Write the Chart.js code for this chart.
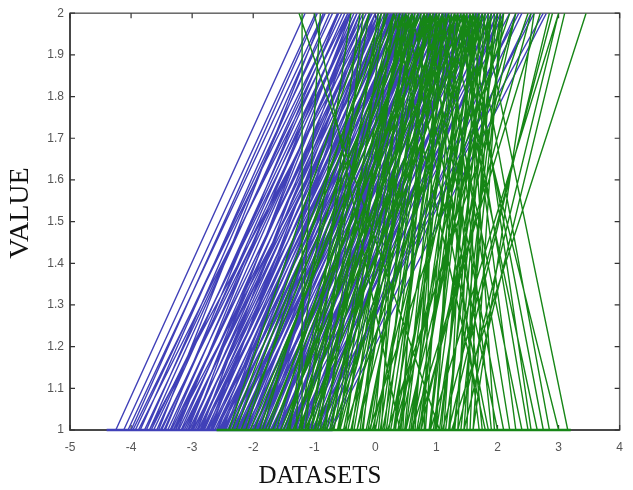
<!DOCTYPE html>
<html>
<head>
<meta charset="utf-8">
<script src="https://cdn.jsdelivr.net/npm/chart.js@4"></script>
<style>
html,body{margin:0;padding:0;background:#fff;}
#wrap{width:633px;height:490px;position:relative;}
</style>
</head>
<body>
<div id="wrap"><canvas id="c" width="633" height="490"></canvas></div>
<script>
// Values at the lower axis level (VALUE = 1) and upper level (VALUE = 2)
const blueBottom = [-4.25,-4.12,-4.0,-3.93,-3.85,-3.78,-3.7,-3.63,-3.58,-3.5,-3.46,-3.4,-3.36,-3.31,-3.27,-3.22,-3.18,-3.13,-3.1,-3.05,-3.02,-2.98,-2.95,-2.9,-2.87,-2.84,-2.8,-2.77,-2.73,-2.7,-2.66,-2.63,-2.6,-2.56,-2.52,-2.49,-2.45,-2.42,-2.38,-2.34,-2.3,-2.27,-2.23,-2.2,-2.16,-2.12,-2.08,-2.05,-2.0,-1.96,-1.92,-1.88,-1.84,-1.8,-1.75,-1.7,-1.65,-1.6,-1.55,-1.5,-1.44,-1.38,-1.32,-1.25,-1.18,-1.1,-1.02,-0.95,-0.85,-0.75,-3.0,-2.7,-2.5,-2.2,-1.9,-1.6,-1.3,-3.55,-2.85,-1.4,-1.05,-0.9,
  -4.05,-3.97,-3.88,-3.75,-3.67,-3.52,-3.44,-3.34,-3.24,-3.16,-3.07,-2.99,-2.92,-2.82,-2.75,-2.68,-2.58,-2.54,-2.47,-2.4,-2.32,-2.25,-2.18,-2.14,-2.1,-2.02,-1.98,-1.94,-1.86,-1.82,-1.77,-1.72,-1.67,-1.62,-1.57,-1.52,-1.47,-1.42,-1.35,-1.28,-1.2,-1.15,-1.08,-0.98,-0.92,-0.8,-0.72,-2.9,-2.6,-2.35,-2.0,-1.7,-3.3,-3.7,-1.45,-1.25,-1.0,-2.45,-2.15,-1.85];
const blueTop    = [-1.15,-0.98,-0.95,-0.7,-0.82,-0.55,-0.62,-0.4,-0.5,-0.3,-0.42,-0.2,-0.35,-0.05,-0.25,0.05,-0.15,0.1,-0.08,0.2,0.0,0.28,0.1,0.35,0.15,0.42,0.22,0.5,0.3,0.55,0.38,0.62,0.4,0.7,0.48,0.75,0.55,0.8,0.6,0.88,0.65,0.95,0.72,1.0,0.8,1.05,0.85,1.12,0.9,1.2,0.98,1.25,1.05,1.3,1.1,1.4,1.18,1.45,1.25,1.55,1.35,1.62,1.45,1.75,1.55,1.9,1.68,2.05,2.3,2.55,-0.4,-0.1,0.05,0.3,0.55,0.8,1.1,-0.85,-0.25,2.2,2.75,1.5,
  -0.85,-0.6,-0.45,-0.75,-0.3,-0.15,-0.6,0.0,-0.45,0.25,-0.3,0.45,-0.1,0.6,0.05,0.72,0.18,0.9,0.32,1.05,0.45,1.15,0.55,1.3,0.62,1.35,0.7,1.45,0.85,1.55,0.95,1.65,1.0,1.75,1.15,1.85,1.2,1.95,1.3,2.0,1.4,2.1,1.5,1.8,2.4,2.0,2.8,0.55,0.85,1.1,1.4,1.7,0.3,-0.05,2.1,2.35,2.6,0.0,0.25,0.45];
const greenBottom = [-2.35,-2.2,-2.05,-1.9,-1.8,-1.68,-1.55,-1.45,-1.35,-1.25,-1.15,-1.05,-0.95,
  -2.4,-2.28,-2.12,-1.98,-1.85,-1.75,-1.62,-1.5,-1.42,-1.32,-1.22,-1.12,-1.0,-0.88,-0.8,-0.7,-0.58,-0.5,-0.4,-0.3,
  -1.3,-1.2,-1.1,-0.95,-0.85,-0.75,-0.68,-0.6,-0.52,-0.45,-0.38,-0.3,-0.22,-0.15,-0.08,0.0,0.05,0.12,0.18,0.25,0.3,0.37,0.42,0.5,0.55,0.62,0.68,0.75,0.8,0.88,0.95,1.0,1.08,1.15,1.22,1.3,1.4,1.5,1.6,-0.9,-0.6,-0.25,0.1,0.45,
  -1.4,-1.25,-1.15,-1.05,-0.98,-0.82,-0.72,-0.62,-0.48,-0.35,-0.2,-0.12,-0.02,0.08,0.15,0.22,0.33,0.4,0.48,0.58,0.65,0.72,0.82,0.9,0.98,1.05,1.12,1.2,1.28,1.35,1.45,1.55,0.3,0.6,-0.05,
  -0.1,0.2,0.4,0.6,0.75,0.9,1.0,1.1,1.25,1.45,1.6,0.3,0.7,1.2,0.5,1.35,
  1.7,1.8,1.9,2.0,2.3,2.4,2.55,2.65,2.85,3.0,3.15,1.95,1.75,2.1,2.5,2.75,1.85,2.2,
  1.05,-1.2,0.4];
const greenTop = [0.2,0.5,0.75,0.4,1.0,0.9,1.3,0.6,1.45,1.1,1.6,0.85,1.35,
  -0.1,0.3,0.1,0.6,0.2,0.7,0.45,0.95,0.3,0.8,0.55,1.2,0.65,1.5,0.95,1.6,1.2,1.7,1.05,1.5,
  -0.9,0.1,0.3,0.5,0.45,0.7,0.6,0.9,0.8,1.0,0.55,1.1,0.85,1.2,0.95,1.3,0.75,1.4,1.05,1.5,1.15,1.6,0.9,1.35,1.7,1.25,1.8,1.5,1.0,1.65,1.85,1.35,1.75,2.0,1.55,1.9,2.1,1.7,2.05,-0.2,0.3,0.65,0.45,0.8,
  -0.4,-0.1,-0.25,0.05,0.35,0.15,0.45,0.65,0.4,0.8,0.5,1.05,0.6,1.1,0.85,1.25,1.0,1.45,1.15,1.55,1.1,1.65,1.3,1.7,1.45,1.9,1.6,1.8,2.1,1.65,1.95,1.85,1.75,2.0,1.65,
  2.2,2.5,1.9,2.7,2.3,3.0,2.05,2.9,3.45,3.1,2.6,2.3,2.55,2.85,2.1,3.0,
  0.9,0.3,1.2,0.6,1.4,1.0,1.55,1.2,1.6,1.3,1.75,1.5,1.1,0.8,1.35,1.45,0.5,1.1,
  -1.25,-1.2,-1.0];
// Horizontal runs along VALUE = 1 (from, to)
const blueBase = [-4.4, -0.7];
const greenBase = [-2.6, 3.2];
const xTicks = [-5,-4,-3,-2,-1,0,1,2,3,4];
const yTicks = [1,1.1,1.2,1.3,1.4,1.5,1.6,1.7,1.8,1.9,2];

const BLUE = 'rgb(64,64,184)';
const GREEN = 'rgb(22,134,22)';

function segs(b, t) {
  const out = [];
  for (let i = 0; i < b.length; i++) {
    out.push({x: b[i], y: 1}, {x: t[i], y: 2}, {x: t[i], y: null});
  }
  return out;
}

const frame = {
  id: 'frame',
  beforeDatasetsDraw(chart) {
    const {ctx, chartArea: a, scales: {x, y}} = chart;
    ctx.save();
    ctx.lineWidth = 1.5;
    ctx.strokeStyle = '#666';
    ctx.strokeRect(a.left, a.top, a.right - a.left, a.bottom - a.top);
    ctx.strokeStyle = '#333';
    ctx.beginPath();
    ctx.moveTo(a.left, a.top); ctx.lineTo(a.left, a.bottom); ctx.lineTo(a.right, a.bottom);
    ctx.stroke();
    ctx.lineWidth = 1.2;
    ctx.beginPath();
    xTicks.forEach(v => {
      const p = x.getPixelForValue(v);
      ctx.moveTo(p, a.bottom); ctx.lineTo(p, a.bottom - 5);
      ctx.moveTo(p, a.top); ctx.lineTo(p, a.top + 5);
    });
    yTicks.forEach(v => {
      const p = y.getPixelForValue(v);
      ctx.moveTo(a.left, p); ctx.lineTo(a.left + 5, p);
      ctx.moveTo(a.right, p); ctx.lineTo(a.right - 5, p);
    });
    ctx.stroke();
    ctx.restore();
  },
  afterDraw(chart) {
    const ctx = chart.ctx;
    ctx.save();
    ctx.fillStyle = '#111';
    ctx.textAlign = 'center';
    ctx.textBaseline = 'middle';
    ctx.font = '25px "Liberation Serif"';
    ctx.fillText('DATASETS', 320, 476);
    ctx.translate(21, 213);
    ctx.rotate(-Math.PI / 2);
    ctx.font = '28px "Liberation Serif"';
    ctx.fillText('VALUE', 0, 0);
    ctx.restore();
  }
};

new Chart(document.getElementById('c'), {
  type: 'scatter',
  data: {
    datasets: [
      {data: [{x: greenBase[0], y: 1}, {x: greenBase[1], y: 1}], borderColor: GREEN, borderWidth: 2.5, showLine: true, pointRadius: 0, clip: {left: 0, right: 0, top: 0, bottom: 3}},
      {data: segs(greenBottom, greenTop), borderColor: GREEN, borderWidth: 1.4, showLine: true, pointRadius: 0, spanGaps: false},
      {data: [{x: blueBase[0], y: 1}, {x: blueBase[1], y: 1}], borderColor: BLUE, borderWidth: 2.5, showLine: true, pointRadius: 0, clip: {left: 0, right: 0, top: 0, bottom: 3}},
      {data: segs(blueBottom, blueTop), borderColor: BLUE, borderWidth: 1.4, showLine: true, pointRadius: 0, spanGaps: false}
    ]
  },
  options: {
    responsive: false,
    animation: false,
    events: [],
    layout: {padding: {top: 11, right: 5, left: 0, bottom: 0}},
    plugins: {legend: {display: false}, tooltip: {enabled: false}},
    scales: {
      x: {
        type: 'linear', min: -5, max: 4,
        afterBuildTicks(s) { s.ticks = xTicks.map(v => ({value: v})); },
        afterFit(s) { s.height = 60; },
        grid: {display: false, drawTicks: false},
        border: {display: false},
        ticks: {padding: 10, color: '#555', font: {family: 'Liberation Sans', size: 12},
          callback: v => String(v)},
        title: {display: false, text: 'DATASETS'}
      },
      y: {
        type: 'linear', min: 1, max: 2,
        afterBuildTicks(s) { s.ticks = yTicks.map(v => ({value: v})); },
        afterFit(s) { s.width = 70; },
        grid: {display: false, drawTicks: false},
        border: {display: false},
        ticks: {padding: 6, color: '#555', font: {family: 'Liberation Sans', size: 12},
          callback: v => String(Math.round(v * 10) / 10)},
        title: {display: false, text: 'VALUE'}
      }
    }
  },
  plugins: [frame]
});
</script>
</body>
</html>
